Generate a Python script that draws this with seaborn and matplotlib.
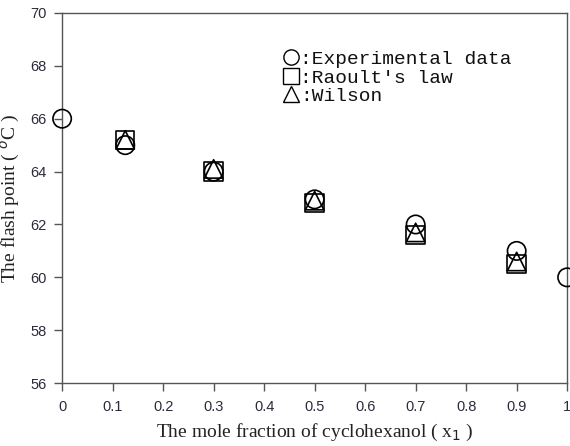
import matplotlib
matplotlib.use("Agg")
import matplotlib.pyplot as plt
import seaborn as sns
from matplotlib.lines import Line2D

# data
x_exp = [0.0, 0.125, 0.3, 0.5, 0.7, 0.9, 1.0]
flash_exp = [66.0, 65.0, 64.0, 62.95, 62.0, 61.0, 60.0]
x_calc = [0.125, 0.3, 0.5, 0.7, 0.9]
flash_raoult = [65.2, 64.0, 62.8, 61.6, 60.5]
flash_wilson = [65.2, 64.1, 62.9, 61.7, 60.6]

x_ticks = [0, 0.1, 0.2, 0.3, 0.4, 0.5, 0.6, 0.7, 0.8, 0.9, 1]
x_tick_labels = ["0", "0.1", "0.2", "0.3", "0.4", "0.5", "0.6", "0.7", "0.8", "0.9", "1"]
y_ticks = [56, 58, 60, 62, 64, 66, 68, 70]

sns.set_theme(style="ticks")
plt.rcParams['font.family'] = ['Liberation Sans', 'DejaVu Sans']

fig = plt.figure(figsize=(5.70, 4.46), dpi=100)
ax = fig.add_axes([0.109, 0.141, 0.886, 0.830])

common = dict(s=175, facecolor='none', edgecolor='black', linewidth=1.2, clip_on=False, zorder=3)
sns.scatterplot(x=x_exp, y=flash_exp, marker='o', ax=ax, **common)
sns.scatterplot(x=x_calc, y=flash_raoult, marker='s', ax=ax, **common)
sns.scatterplot(x=x_calc, y=flash_wilson, marker='^', ax=ax, **common)

ax.set_xlim(0, 1)
ax.set_ylim(56, 70)
ax.set_xticks(x_ticks)
ax.set_xticklabels(x_tick_labels)
ax.set_yticks(y_ticks)
for sp in ax.spines.values():
    sp.set_visible(True)
    sp.set_color('#555555')
    sp.set_linewidth(1.0)
ax.tick_params(direction='out', length=6, width=1, color='#555555',
               labelsize=10.5, labelcolor='#2b2b3b', pad=5)
ax.tick_params(axis='x', pad=6)

ax.set_xlabel("The mole fraction of cyclohexanol ( x$_1$ )", family='Liberation Serif',
              fontsize=14, labelpad=6, color='#222222')
ax.set_ylabel("The flash point ( $^{o}$C )", family='Liberation Serif',
              fontsize=14, labelpad=6, color='#222222')

handles = [
    Line2D([], [], marker='o', ls='', mfc='none', mec='black', ms=11, mew=1.0),
    Line2D([], [], marker='s', ls='', mfc='none', mec='black', ms=11, mew=1.0),
    Line2D([], [], marker='^', ls='', mfc='none', mec='black', ms=11, mew=1.0),
]
labels = [":Experimental data", ":Raoult's law", ":Wilson"]
leg = ax.legend(handles, labels, loc='upper left', bbox_to_anchor=(0.418, 0.92),
                frameon=False, handlelength=1.0, handletextpad=0.0, labelspacing=0.05,
                borderaxespad=0, prop={'family': 'Liberation Mono', 'size': 14})
for t in leg.get_texts():
    t.set_color('#111111')

fig.savefig("out.png", dpi=100)
